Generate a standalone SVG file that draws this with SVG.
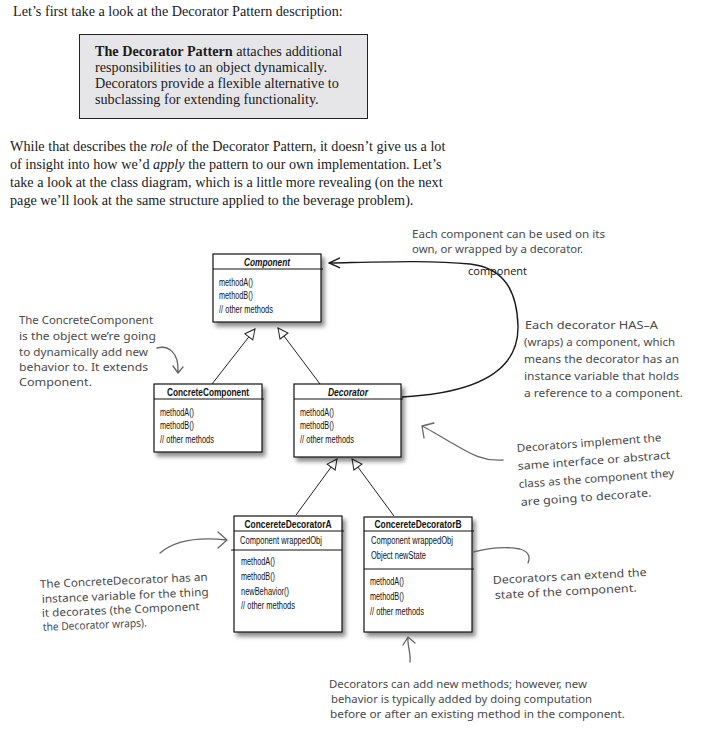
<svg xmlns="http://www.w3.org/2000/svg" width="714" height="734" viewBox="0 0 714 734">
<style>
.t{font-family:"Liberation Serif","Times New Roman",serif;font-size:14.2px;fill:#1a1a1a}
.h{font-family:"Noto Sans","Open Sans",sans-serif;font-size:11px;fill:#4a4a4a}
.m{font-family:"Liberation Sans",Arial,sans-serif;font-size:10px;fill:#111}
.ti{font-family:"Liberation Sans",Arial,sans-serif;font-size:10.5px;font-weight:bold;fill:#111;text-anchor:middle}
.box{fill:#fff;stroke:#111;stroke-width:1.2;filter:url(#sh)}
.sep{stroke:#111;stroke-width:1}
.gen{fill:none;stroke:#222;stroke-width:1;marker-end:url(#tri)}
.assoc{fill:none;stroke:#1a1a1a;stroke-width:1.4;marker-end:url(#open)}
.note{fill:none;stroke:#666;stroke-width:1.3;stroke-linecap:round;stroke-linejoin:round}
</style>
<defs>
<filter id="sh" x="-10%" y="-10%" width="130%" height="130%">
<feDropShadow dx="3" dy="4" stdDeviation="2" flood-color="#000" flood-opacity="0.45"/>
</filter>
<marker id="tri" viewBox="0 0 12 12" refX="11" refY="6" markerWidth="12" markerHeight="12" markerUnits="userSpaceOnUse" orient="auto">
<path d="M1,1 L11,6 L1,11 Z" fill="#fff" stroke="#222" stroke-width="1"/>
</marker>
<marker id="open" viewBox="0 0 14 14" refX="13" refY="7" markerWidth="14" markerHeight="14" markerUnits="userSpaceOnUse" orient="auto">
<path d="M2,2 L13,7 L2,12" fill="none" stroke="#1a1a1a" stroke-width="1.4"/>
</marker>
</defs>
<rect width="714" height="734" fill="#fff"/>

<g id="intro">
<text class="t" x="13" y="16">Let’s first take a look at the Decorator Pattern description:</text>
<rect x="79.5" y="34.5" width="288" height="84" fill="#e6e6e8" stroke="#222" stroke-width="1"/>
<text class="t" x="95" y="56"><tspan font-weight="bold">The Decorator Pattern</tspan> attaches additional</text>
<text class="t" x="95" y="72">responsibilities to an object dynamically.</text>
<text class="t" x="95" y="88">Decorators provide a flexible alternative to</text>
<text class="t" x="95" y="104">subclassing for extending functionality.</text>
<text class="t" x="10" y="151">While that describes the <tspan font-style="italic">role</tspan> of the Decorator Pattern, it doesn’t give us a lot</text>
<text class="t" x="10" y="169">of insight into how we’d <tspan font-style="italic">apply</tspan> the pattern to our own implementation. Let’s</text>
<text class="t" x="10" y="187">take a look at the class diagram, which is a little more revealing (on the next</text>
<text class="t" x="10" y="205">page we’ll look at the same structure applied to the beverage problem).</text>
</g>

<g id="connectors">
<line class="gen" x1="212" y1="384" x2="255" y2="329"/>
<line class="gen" x1="320" y1="384" x2="278" y2="328"/>
<line class="gen" x1="296" y1="515" x2="337" y2="459"/>
<line class="gen" x1="394" y1="516" x2="352" y2="459"/>
<path class="assoc" d="M402,397 C478,393 519,370 518,326 C517,292 505,268 470,264 C430,260 380,262 329,263"/>
<text x="468" y="275" font-family="'Open Sans','Noto Sans',sans-serif" font-size="11" fill="#111">component</text>
</g>

<g id="node-component">
<rect class="box" x="213" y="254" width="108" height="68"/>
<line class="sep" x1="213" y1="269" x2="323" y2="269"/>
<text class="ti" x="267" y="265.5" font-style="italic" textLength="46" lengthAdjust="spacingAndGlyphs">Component</text>
<text class="m" x="219" y="285.5" textLength="34" lengthAdjust="spacingAndGlyphs">methodA()</text>
<text class="m" x="219" y="299" textLength="34" lengthAdjust="spacingAndGlyphs">methodB()</text>
<text class="m" x="219" y="313" textLength="54" lengthAdjust="spacingAndGlyphs">// other methods</text>
</g>

<g id="node-concretecomponent">
<rect class="box" x="154" y="384" width="108" height="68"/>
<line class="sep" x1="154" y1="399" x2="264" y2="399"/>
<text class="ti" x="208" y="396" textLength="82" lengthAdjust="spacingAndGlyphs">ConcreteComponent</text>
<text class="m" x="160" y="415.5" textLength="34" lengthAdjust="spacingAndGlyphs">methodA()</text>
<text class="m" x="160" y="429" textLength="34" lengthAdjust="spacingAndGlyphs">methodB()</text>
<text class="m" x="160" y="443" textLength="54" lengthAdjust="spacingAndGlyphs">// other methods</text>
</g>

<g id="node-decorator">
<rect class="box" x="294" y="384" width="107" height="73"/>
<line class="sep" x1="294" y1="399" x2="403" y2="399"/>
<text class="ti" x="348" y="396" font-style="italic" textLength="40" lengthAdjust="spacingAndGlyphs">Decorator</text>
<text class="m" x="300" y="415.5" textLength="34" lengthAdjust="spacingAndGlyphs">methodA()</text>
<text class="m" x="300" y="429" textLength="34" lengthAdjust="spacingAndGlyphs">methodB()</text>
<text class="m" x="300" y="443" textLength="54" lengthAdjust="spacingAndGlyphs">// other methods</text>
</g>

<g id="node-concretedecoratora">
<rect class="box" x="234" y="516" width="108" height="116"/>
<line class="sep" x1="234" y1="531" x2="344" y2="531"/>
<line class="sep" x1="231" y1="550" x2="342" y2="550"/>
<text class="ti" x="288" y="528" textLength="87" lengthAdjust="spacingAndGlyphs">ConcereteDecoratorA</text>
<text class="m" x="240" y="544" textLength="82" lengthAdjust="spacingAndGlyphs">Component wrappedObj</text>
<text class="m" x="241" y="565" textLength="34" lengthAdjust="spacingAndGlyphs">methodA()</text>
<text class="m" x="241" y="580" textLength="34" lengthAdjust="spacingAndGlyphs">methodB()</text>
<text class="m" x="241" y="595" textLength="48" lengthAdjust="spacingAndGlyphs">newBehavior()</text>
<text class="m" x="241" y="609" textLength="54" lengthAdjust="spacingAndGlyphs">// other methods</text>
</g>

<g id="node-concretedecoratorb">
<rect class="box" x="364" y="517" width="108" height="115"/>
<line class="sep" x1="364" y1="531" x2="474" y2="531"/>
<line class="sep" x1="364" y1="569" x2="474" y2="569"/>
<text class="ti" x="418" y="528" textLength="87" lengthAdjust="spacingAndGlyphs">ConcereteDecoratorB</text>
<text class="m" x="371" y="544" textLength="82" lengthAdjust="spacingAndGlyphs">Component wrappedObj</text>
<text class="m" x="371" y="559" textLength="55" lengthAdjust="spacingAndGlyphs">Object newState</text>
<text class="m" x="370" y="585" textLength="34" lengthAdjust="spacingAndGlyphs">methodA()</text>
<text class="m" x="370" y="600" textLength="34" lengthAdjust="spacingAndGlyphs">methodB()</text>
<text class="m" x="370" y="615" textLength="54" lengthAdjust="spacingAndGlyphs">// other methods</text>
</g>

<g id="note-component">
<text class="h" x="412" y="238" textLength="193" lengthAdjust="spacingAndGlyphs">Each component can be used on its</text>
<text class="h" x="412" y="253" textLength="171" lengthAdjust="spacingAndGlyphs">own, or wrapped by a decorator.</text>
</g>

<g id="note-hasa">
<text class="h" x="525" y="329" textLength="133" lengthAdjust="spacingAndGlyphs">Each decorator HAS–A</text>
<text class="h" x="524" y="346" textLength="151" lengthAdjust="spacingAndGlyphs">(wraps) a component, which</text>
<text class="h" x="524" y="363" textLength="155" lengthAdjust="spacingAndGlyphs">means the decorator has an</text>
<text class="h" x="524" y="380" textLength="155" lengthAdjust="spacingAndGlyphs">instance variable that holds</text>
<text class="h" x="524" y="397" textLength="159" lengthAdjust="spacingAndGlyphs">a reference to a component.</text>
</g>

<g id="note-concretecomponent">
<text class="h" x="19" y="324" textLength="134" lengthAdjust="spacingAndGlyphs">The ConcreteComponent</text>
<text class="h" x="19" y="340" textLength="137" lengthAdjust="spacingAndGlyphs">is the object we’re going</text>
<text class="h" x="19" y="356" textLength="129" lengthAdjust="spacingAndGlyphs">to dynamically add new</text>
<text class="h" x="19" y="371" textLength="129" lengthAdjust="spacingAndGlyphs">behavior to. It extends</text>
<text class="h" x="19" y="386" textLength="73" lengthAdjust="spacingAndGlyphs">Component.</text>
<path class="note" d="M157,348 C168,345 179,352 178,372 M173,366 L178,373 L183,367"/>
</g>

<g id="note-implement">
<text class="h" x="517" y="452" transform="rotate(-4.2 517 452)" textLength="145" lengthAdjust="spacingAndGlyphs">Decorators implement the</text>
<text class="h" x="518" y="470" transform="rotate(-4.2 518 470)" textLength="153" lengthAdjust="spacingAndGlyphs">same interface or abstract</text>
<text class="h" x="519" y="488" transform="rotate(-4.2 519 488)" textLength="156" lengthAdjust="spacingAndGlyphs">class as the component they</text>
<text class="h" x="521" y="506" transform="rotate(-4.2 521 506)" textLength="131" lengthAdjust="spacingAndGlyphs">are going to decorate.</text>
<path class="note" d="M503,460 C480,462 465,450 450,442 C440,436 430,430 422,426 M434,423 L422,426 L424,438"/>
</g>

<g id="note-concretedecorator">
<text class="h" x="40" y="588" transform="rotate(-2.5 40 588)" textLength="168" lengthAdjust="spacingAndGlyphs">The ConcreteDecorator has an</text>
<text class="h" x="42" y="603" transform="rotate(-2.5 42 603)" textLength="167" lengthAdjust="spacingAndGlyphs">instance variable for the thing</text>
<text class="h" x="42" y="617" transform="rotate(-2.5 42 617)" textLength="158" lengthAdjust="spacingAndGlyphs">it decorates (the Component</text>
<text class="h" x="43" y="631" transform="rotate(-2.5 43 631)" textLength="104" lengthAdjust="spacingAndGlyphs">the Decorator wraps).</text>
<path class="note" d="M160,553 C175,540 200,537 227,540 M218,532 L227,540 L218,548"/>
</g>

<g id="note-state">
<path class="note" d="M473,552 C485,549 505,546 520,549 C530,552 530,558 528,563"/>
<text class="h" x="493" y="584" transform="rotate(-3 493 584)" textLength="154" lengthAdjust="spacingAndGlyphs">Decorators can extend the</text>
<text class="h" x="495" y="599" transform="rotate(-3 495 599)" textLength="142" lengthAdjust="spacingAndGlyphs">state of the component.</text>
</g>

<g id="note-methods">
<path class="note" d="M410,662 C411,652 407,645 408,637 M403,645 L408,637 L415,643"/>
<text class="h" x="329" y="688" textLength="258" lengthAdjust="spacingAndGlyphs">Decorators can add new methods; however, new</text>
<text class="h" x="331" y="703" textLength="261" lengthAdjust="spacingAndGlyphs">behavior is typically added by doing computation</text>
<text class="h" x="330" y="718" textLength="295" lengthAdjust="spacingAndGlyphs">before or after an existing method in the component.</text>
</g>
</svg>
